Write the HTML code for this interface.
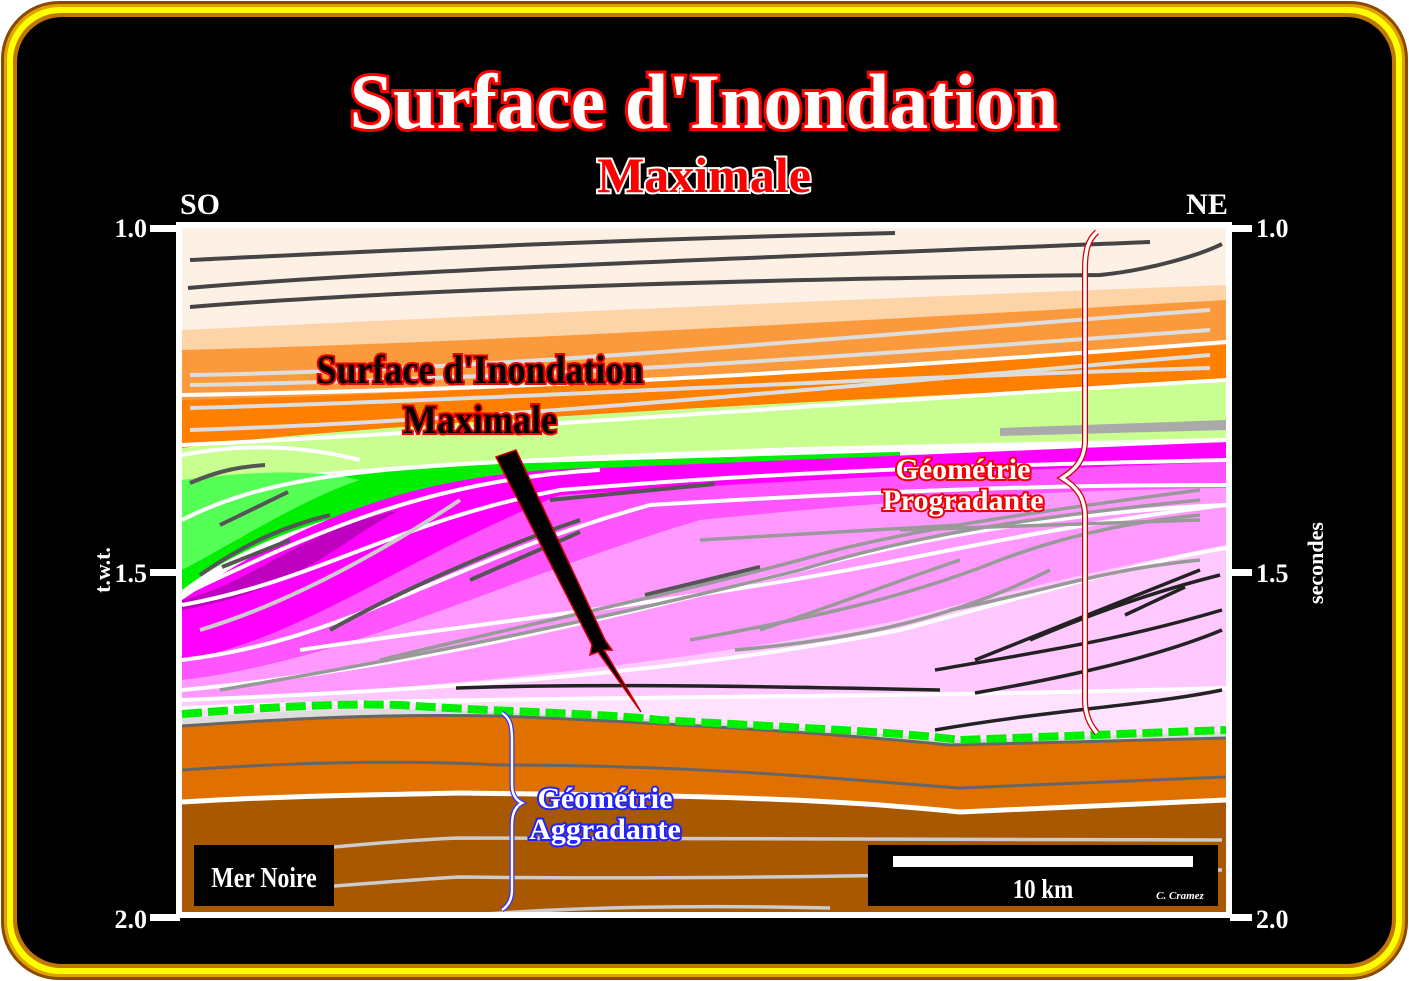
<!DOCTYPE html>
<html><head><meta charset="utf-8"><style>
html,body{margin:0;padding:0;background:#fff}
svg{display:block}
text{font-family:"Liberation Serif",serif;font-weight:bold}
</style></head><body>
<svg width="1409" height="981" viewBox="0 0 1409 981" xmlns="http://www.w3.org/2000/svg">
<defs>
<clipPath id="plot"><rect x="182" y="228" width="1044" height="684"/></clipPath>
</defs>
<rect x="0" y="0" width="1409" height="981" fill="#fff"/>
<rect x="1" y="1" width="1407" height="979" rx="58" fill="#8a4a00"/>
<rect x="4" y="4" width="1401" height="973" rx="55" fill="#e0a000"/>
<rect x="7" y="7" width="1395" height="967" rx="53" fill="#ffff00"/>
<rect x="13" y="13" width="1383" height="955" rx="48" fill="#c07800"/>
<rect x="17" y="17" width="1375" height="947" rx="45" fill="#000"/>

<text x="704" y="128" text-anchor="middle" font-size="78" fill="#fff" stroke="#ff0000" stroke-width="6" paint-order="stroke">Surface d'Inondation</text>
<text x="704" y="192" text-anchor="middle" font-size="50" fill="#ff0000" stroke="#fff" stroke-width="4" paint-order="stroke">Maximale</text>
<text x="200" y="214" text-anchor="middle" font-size="30" fill="#fff">SO</text>
<text x="1207" y="214" text-anchor="middle" font-size="30" fill="#fff">NE</text>

<!-- frame -->
<rect x="176" y="222" width="1056" height="696" fill="#fff"/>
<g fill="#fff">
<rect x="150" y="225" width="30" height="7"/><rect x="150" y="569" width="30" height="7"/><rect x="150" y="914" width="30" height="7"/>
<rect x="1230" y="225" width="22" height="7"/><rect x="1230" y="569" width="22" height="7"/><rect x="1230" y="914" width="22" height="7"/>
</g>
<g font-size="26" fill="#fff">
<text x="147" y="237" text-anchor="end">1.0</text><text x="147" y="582" text-anchor="end">1.5</text><text x="147" y="928" text-anchor="end">2.0</text>
<text x="1256" y="237">1.0</text><text x="1256" y="582">1.5</text><text x="1256" y="928">2.0</text>
<text transform="translate(110,570) rotate(-90)" text-anchor="middle" font-size="22">t.w.t.</text>
<text transform="translate(1323,563) rotate(-90)" text-anchor="middle" font-size="22">secondes</text>
</g>

<g clip-path="url(#plot)">
<rect x="182" y="228" width="1044" height="684" fill="#fdf0e4"/>
<path d="M182 330 C400 320 700 305 1226 285 L1226 912 L182 912Z" fill="#fdd3a8"/>
<path d="M182 350 C400 345 700 330 1226 300 L1226 912 L182 912Z" fill="#fb9a3c"/>
<path d="M182 400 C400 395 700 380 1226 345 L1226 912 L182 912Z" fill="#ff7f00"/>
<path d="M182 448 C300 430 700 405 1226 382 L1226 912 L182 912Z" fill="#c8ff90"/>
<path d="M1000 428 L1226 420 L1226 430 L1000 436Z" fill="#aaa"/>
<path d="M182 490 C300 470 450 460 800 447 L1226 438 L1226 912 L182 912Z" fill="#fff"/>
<path d="M182 500 C300 470 450 458 900 450 L900 460 C500 470 300 500 182 590Z" fill="#00ee00"/>
<path d="M182 480 C260 470 320 470 360 480 C300 500 240 540 182 570Z" fill="#55ff55"/>
<path d="M182 600 C300 520 420 470 600 468 L1226 442 L1226 912 L182 912Z" fill="#ff00ff"/>
<path d="M182 600 C260 580 300 530 400 510 C340 540 300 590 182 610Z" fill="#c000c0"/>
<path d="M182 660 C300 640 400 560 560 495 C800 480 1000 470 1226 462 L1226 912 L182 912Z" fill="#ff55ff"/>
<path d="M182 680 C350 660 500 580 700 520 C900 500 1050 490 1226 488 L1226 912 L182 912Z" fill="#ff99ff"/>
<path d="M182 700 C450 690 700 660 900 620 C1050 580 1150 560 1226 545 L1226 912 L182 912Z" fill="#ffc8ff"/>
<path d="M182 710 C500 695 800 700 1226 690 L1226 912 L182 912Z" fill="#ffe2ff"/>

<g fill="none" stroke="#fff" stroke-width="4">
<path d="M182 455 C260 440 320 450 360 460"/>
<path d="M182 520 C260 480 350 470 500 462 C700 455 900 450 1226 440"/>
<path d="M182 595 C300 540 420 480 600 470"/>
<path d="M182 605 C320 580 400 520 560 490 C800 470 1000 465 1226 460"/>
<path d="M182 660 C350 640 450 560 650 505 C900 490 1050 485 1226 485"/>
<path d="M182 690 C400 670 600 620 800 570 C950 530 1100 510 1226 505"/>
<path d="M182 700 C450 690 700 670 900 630 C1050 590 1150 560 1226 548"/>
<path d="M182 708 C500 695 800 700 1226 688"/>
<path d="M300 650 C500 620 700 600 900 560 C1000 540 1100 520 1226 505"/>
<path d="M182 395 C500 390 800 375 1226 342"/>
<path d="M182 445 C500 430 800 405 1226 380"/>
</g>
<g fill="none" stroke="#ddd" stroke-width="4">
<path d="M190 375 C500 370 800 340 1210 310"/>
<path d="M190 385 C500 380 800 360 1210 330"/>
<path d="M190 430 C500 420 800 390 1210 355"/>
<path d="M190 408 C500 400 800 380 1210 368"/>
</g>
<g fill="none" stroke="#444" stroke-width="4">
<path d="M190 260 C400 250 600 240 895 233"/>
<path d="M188 288 C400 270 700 260 1150 242"/>
<path d="M190 307 C400 290 700 280 1100 275 C1150 270 1200 255 1222 244"/>
</g>
<g fill="none" stroke="#555" stroke-width="4">
<path d="M190 483 C220 470 240 467 265 465"/>
<path d="M220 525 L288 492"/><path d="M200 575 C250 540 290 525 330 515"/>
<path d="M222 567 L290 540"/>
<path d="M330 630 C420 580 520 540 580 520"/>
<path d="M470 580 L580 532"/><path d="M550 500 L715 484"/>
<path d="M645 595 L760 567"/>
</g>
<g fill="none" stroke="#999" stroke-width="3.5">
<path d="M220 690 C400 660 600 620 800 570 C900 540 1000 520 1200 500"/>
<path d="M380 660 C500 630 650 600 800 560 C900 530 1050 510 1200 490"/>
<path d="M690 640 C800 620 900 600 1000 560 C1080 530 1150 520 1200 515"/>
<path d="M760 630 C850 600 900 580 960 560"/>
<path d="M735 650 C850 640 950 620 1050 570"/>
<path d="M950 610 C1050 590 1100 570 1200 560"/>
<path d="M900 530 L1200 520"/><path d="M700 540 L960 525"/>
</g>
<path d="M200 630 C300 600 400 540 460 500" fill="none" stroke="#ccc" stroke-width="4"/>
<g fill="none" stroke="#222" stroke-width="3.5">
<path d="M456 688 C600 683 800 687 940 690"/>
<path d="M935 670 C1050 650 1120 640 1222 610"/>
<path d="M975 660 C1050 630 1150 590 1200 570"/>
<path d="M1030 640 C1100 610 1160 590 1220 575"/>
<path d="M975 693 C1050 680 1150 660 1222 630"/>
<path d="M935 730 C1050 710 1150 705 1222 690"/>
<path d="M1125 615 L1185 587"/>
</g>

<path d="M182 718 C300 710 380 706 500 712 C600 716 800 725 950 740 L1226 732 L1226 912 L182 912Z" fill="#ddd"/>
<path d="M182 726 C300 718 380 714 500 716 C600 720 800 730 950 745 L1226 738 L1226 912 L182 912Z" fill="#e07000"/>
<path d="M182 726 C300 718 380 714 500 716 C600 720 800 730 950 745 L1226 738" fill="none" stroke="#666" stroke-width="3"/>
<path d="M182 770 C300 762 400 760 500 765 C700 765 850 780 960 788 L1226 777" fill="none" stroke="#666" stroke-width="3"/>
<path d="M182 802 C300 795 380 795 460 793 C600 795 800 795 960 812 L1226 800 L1226 912 L182 912Z" fill="#a85800"/>
<path d="M182 802 C300 795 380 795 460 793 C600 795 800 795 960 812 L1226 800" fill="none" stroke="#fff" stroke-width="5"/>
<g fill="none" stroke="#ccc" stroke-width="3.5">
<path d="M197 860 C300 850 400 840 460 838 C650 840 900 840 1222 840"/>
<path d="M200 895 C300 890 400 880 460 877 C700 880 900 875 1222 870"/>
<path d="M340 930 C500 905 700 905 830 908"/>
</g>
<path d="M182 714 C260 708 330 703 400 705 C500 712 600 713 660 720 C800 728 900 732 960 740 L1226 730" fill="none" stroke="#00ee00" stroke-width="8" stroke-dasharray="20 6"/>
</g>

<path d="M496 457 L516 450 L605 640 L612 650 L604 650 L641 712 L598 652 L590 655 L592 645Z" fill="#000" stroke="#c00" stroke-width="1.5"/>
<text x="480" y="383" text-anchor="middle" font-size="40" fill="#000" stroke="#e00" stroke-width="4" paint-order="stroke" transform="translate(480,0) scale(0.9,1) translate(-480,0)">Surface d'Inondation</text>
<text x="480" y="433" text-anchor="middle" font-size="40" fill="#000" stroke="#e00" stroke-width="4" paint-order="stroke" transform="translate(480,0) scale(0.9,1) translate(-480,0)">Maximale</text>

<path d="M1097 232 C1088 240 1085 250 1085 270 L1085 440 C1085 460 1075 470 1062 478 C1075 486 1085 496 1085 516 L1085 700 C1085 715 1090 725 1097 733" fill="none" stroke="#c00" stroke-width="6"/>
<path d="M1097 232 C1088 240 1085 250 1085 270 L1085 440 C1085 460 1075 470 1062 478 C1075 486 1085 496 1085 516 L1085 700 C1085 715 1090 725 1097 733" fill="none" stroke="#fff" stroke-width="3.5"/>
<path d="M502 713 C510 718 512 725 512 740 L512 785 C512 795 516 800 522 803 C516 806 512 812 512 825 L512 890 C512 900 508 906 502 910" fill="none" stroke="#33f" stroke-width="5"/>
<path d="M502 713 C510 718 512 725 512 740 L512 785 C512 795 516 800 522 803 C516 806 512 812 512 825 L512 890 C512 900 508 906 502 910" fill="none" stroke="#fff" stroke-width="2.5"/>
<text x="963" y="479" text-anchor="middle" font-size="30" fill="#fff" stroke="#e00" stroke-width="4" paint-order="stroke">Géométrie</text>
<text x="963" y="510" text-anchor="middle" font-size="30" fill="#fff" stroke="#e00" stroke-width="4" paint-order="stroke">Progradante</text>
<text x="605" y="808" text-anchor="middle" font-size="30" fill="#fff" stroke="#22f" stroke-width="4" paint-order="stroke">Géométrie</text>
<text x="605" y="839" text-anchor="middle" font-size="30" fill="#fff" stroke="#22f" stroke-width="4" paint-order="stroke">Aggradante</text>

<rect x="194" y="845" width="140" height="61" fill="#000"/>
<text x="264" y="887" text-anchor="middle" font-size="28" fill="#fff" font-weight="normal" transform="translate(264,0) scale(0.85,1) translate(-264,0)">Mer Noire</text>
<rect x="868" y="845" width="350" height="61" fill="#000"/>
<rect x="893" y="856" width="300" height="11" fill="#fff"/>
<text x="1043" y="898" text-anchor="middle" font-size="27" fill="#fff" font-weight="normal" transform="translate(1043,0) scale(0.85,1) translate(-1043,0)">10 km</text>
<text x="1180" y="899" text-anchor="middle" font-size="11" fill="#fff" font-style="italic" font-weight="normal">C. Cramez</text>
</svg>
</body></html>
